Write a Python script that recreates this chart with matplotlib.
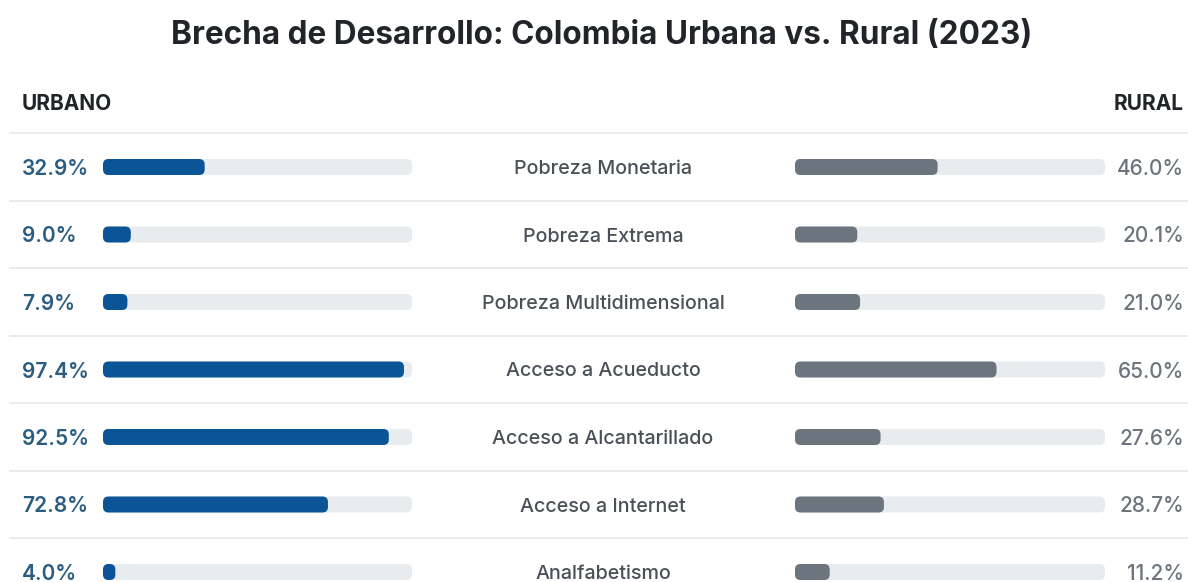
import matplotlib
matplotlib.use("Agg")
import matplotlib.pyplot as plt
from matplotlib.patches import FancyBboxPatch

plt.rcParams['font.family'] = ['Inter', 'DejaVu Sans']

# --- data ---------------------------------------------------------------
title = "Brecha de Desarrollo: Colombia Urbana vs. Rural (2023)"
header_left = "URBANO"
header_right = "RURAL"
indicators = [
    "Pobreza Monetaria",
    "Pobreza Extrema",
    "Pobreza Multidimensional",
    "Acceso a Acueducto",
    "Acceso a Alcantarillado",
    "Acceso a Internet",
    "Analfabetismo",
]
urban = [32.9, 9.0, 7.9, 97.4, 92.5, 72.8, 4.0]
rural = [46.0, 20.1, 21.0, 65.0, 27.6, 28.7, 11.2]
scale_max = 100.0

# --- styling ------------------------------------------------------------
W, H, DPI = 1188, 582, 100
URBAN_BAR = "#0b5596"
URBAN_TXT = "#2a5d80"
RURAL_BAR = "#6c757d"
RURAL_TXT = "#6c757d"
TRACK = "#e9ecef"
LABEL_TXT = "#495057"
HEAD_TXT = "#212529"
RULE = "#e6e8eb"

row_px = 67.5          # vertical pitch of rows, in pixels
first_row_px = 167     # centre of first row from top
bar_px = 16            # bar thickness
radius_px = 5.5

fig = plt.figure(figsize=(W / DPI, H / DPI), dpi=DPI)
fig.patch.set_facecolor("white")

y_top = -first_row_px / row_px
y_bot = (H - first_row_px) / row_px

# background axes in pixel x-coordinates, row-index y-coordinates
bg = fig.add_axes([0, 0, 1, 1])
bg.set_xlim(0, W)
bg.set_ylim(y_bot, y_top)
bg.axis("off")


def bar_axes(x0_px, x1_px):
    ax = fig.add_axes([x0_px / W, 0, (x1_px - x0_px) / W, 1])
    ax.set_xlim(0, scale_max)
    ax.set_ylim(y_bot, y_top)
    ax.axis("off")
    return ax


ax_u = bar_axes(103, 412)
ax_r = bar_axes(795, 1105)


def rounded_bar(ax, y, value, color, width_px):
    px_per_x = width_px / scale_max
    r = radius_px / px_per_x                    # radius in x units
    h = bar_px / row_px                         # height in row units
    aspect = px_per_x / row_px
    patch = FancyBboxPatch(
        (0, y - h / 2), value, h,
        boxstyle=f"round,pad=0,rounding_size={r}",
        mutation_aspect=aspect,
        facecolor=color, edgecolor="none", zorder=3,
    )
    ax.add_patch(patch)


for i, (name, u, r) in enumerate(zip(indicators, urban, rural)):
    rounded_bar(ax_u, i, scale_max, TRACK, 309)
    rounded_bar(ax_u, i, u, URBAN_BAR, 309)
    rounded_bar(ax_r, i, scale_max, TRACK, 310)
    rounded_bar(ax_r, i, r, RURAL_BAR, 310)

    bg.text(22, i, f"{u:.1f}%", ha="left", va="center_baseline",
            fontsize=15, fontweight="semibold", color=URBAN_TXT)
    bg.text(1184, i, f"{r:.1f}%", ha="right", va="center_baseline",
            fontsize=15, fontweight="medium", color=RURAL_TXT)
    bg.text(603, i, name, ha="center", va="center_baseline",
            fontsize=14.2, fontweight="medium", color=LABEL_TXT)

# horizontal rules between rows
for i in range(len(indicators)):
    bg.axhline(i - 0.5, xmin=10 / W, xmax=1, color=RULE, lw=1.2, zorder=1)

# column headers
head_y = -0.97
bg.text(22, head_y, header_left, ha="left", va="center_baseline",
        fontsize=15, fontweight="bold", color=HEAD_TXT)
bg.text(1184, head_y, header_right, ha="right", va="center_baseline",
        fontsize=15, fontweight="bold", color=HEAD_TXT)

# title
bg.text(W / 2 + 8, -2.0, title, ha="center", va="center_baseline",
        fontsize=22.7, fontweight="bold", color=HEAD_TXT)

fig.savefig("out.png", dpi=DPI, facecolor="white")
